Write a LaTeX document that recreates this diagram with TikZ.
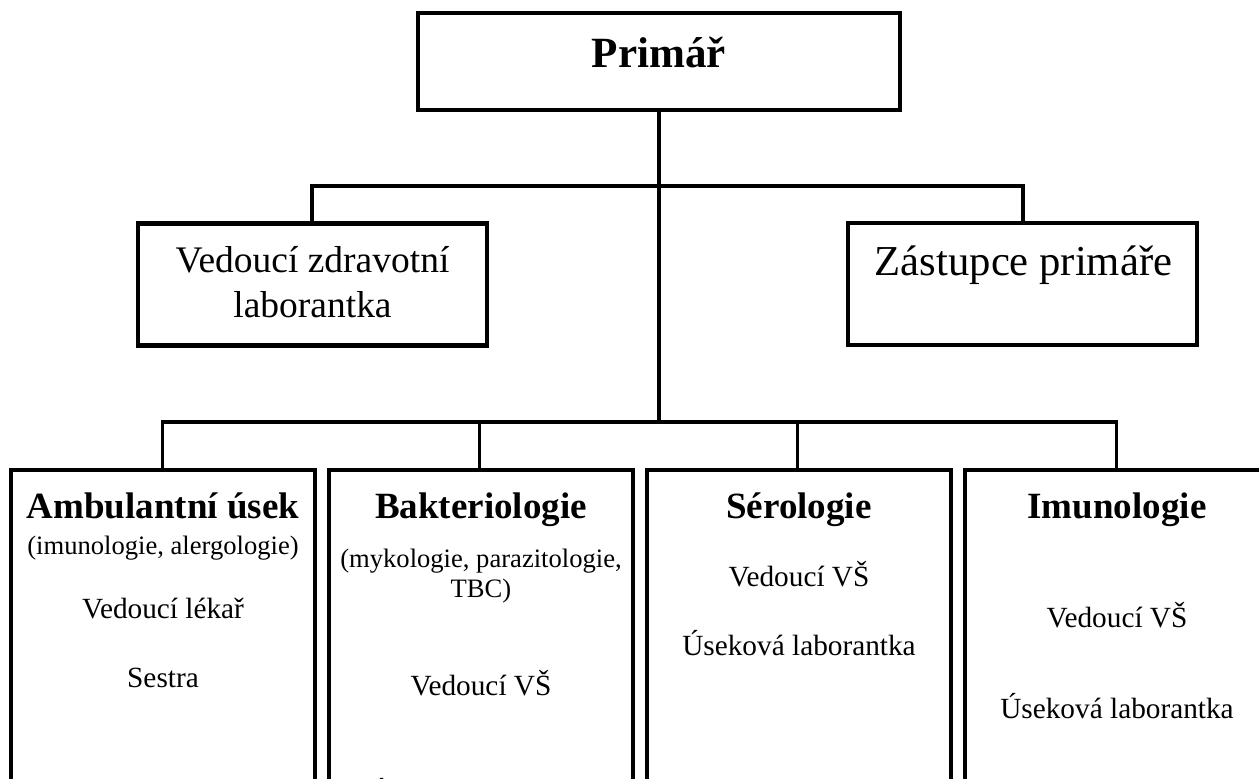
\documentclass[tikz,border=0pt]{standalone}
\usepackage{fontspec}
\setmainfont{Liberation Serif}
\usetikzlibrary{positioning}

\begin{document}
\begin{tikzpicture}[scale=0.15,
    box/.style={draw=black, line width=1.8pt, inner sep=0pt, outer sep=0pt},
    link/.style={draw=black, line width=1.4pt},
    head/.style={font=\fontsize{15.8}{18}\selectfont\bfseries, anchor=base},
    item/.style={font=\fontsize{12.5}{15}\selectfont, anchor=base},
    note/.style={font=\fontsize{11.35}{13}\selectfont, anchor=base}]
                    \tikzstyle{every node}+=[inner sep=0pt]
                    \useasboundingbox (0,0) rectangle (125.9,-77.8);
                    \clip (0,0) rectangle (125.9,-77.8);
                    % boxes
                    \node [box, minimum width=72.3mm, minimum height=14.55mm] (prim) at (65.9,-6.15) {};
                    \node [box, minimum width=52.35mm, minimum height=18.3mm] (ved) at (31.25,-28.45) {};
                    \node [box, minimum width=52.35mm, minimum height=18.3mm] (zast) at (102.25,-28.4) {};
                    \node [box, minimum width=45.6mm, minimum height=49.5mm] (amb) at (16.3,-63.5) {};
                    \node [box, minimum width=45.6mm, minimum height=49.5mm] (bak) at (48.1,-63.5) {};
                    \node [box, minimum width=45.6mm, minimum height=49.5mm] (ser) at (79.9,-63.5) {};
                    \node [box, minimum width=45.6mm, minimum height=49.5mm] (imu) at (111.7,-63.5) {};
                    % texts
                    \node [font=\fontsize{18.4}{22}\selectfont\bfseries, anchor=base] (primT) at (65.9,-6.7) {Primář};
                    \node [font=\fontsize{16}{19}\selectfont, anchor=base] (vedT1) at (31.25,-27.2) {Vedoucí zdravotní};
                    \node [font=\fontsize{16}{19}\selectfont, anchor=base] (vedT2) at (31.25,-31.7) {laborantka};
                    \node [font=\fontsize{18.2}{22}\selectfont, anchor=base] (zastT) at (102.35,-27.5) {Zástupce primáře};
                    \node [head] (ambT) at (16.3,-51.8) {Ambulantní úsek};
                    \node [note] (ambN) at (16.3,-55.4) {(imunologie, alergologie)};
                    \node [item] (ambA) at (16.3,-61.8) {Vedoucí lékař};
                    \node [item] (ambB) at (16.3,-68.7) {Sestra};
                    \node [head] (bakT) at (48.1,-51.8) {Bakteriologie};
                    \node [note] (bakN1) at (48.1,-56.7) {(mykologie, parazitologie,};
                    \node [note] (bakN2) at (48.1,-59.7) {TBC)};
                    \node [item] (bakA) at (48.1,-69.5) {Vedoucí VŠ};
                    \node [item] (bakB) at (48.5,-80.3) {Úseková laborantka};
                    \node [head] (serT) at (79.9,-51.8) {Sérologie};
                    \node [item] (serA) at (79.9,-58.6) {Vedoucí VŠ};
                    \node [item] (serB) at (79.9,-65.5) {Úseková laborantka};
                    \node [head] (imuT) at (111.7,-51.8) {Imunologie};
                    \node [item] (imuA) at (111.7,-62.7) {Vedoucí VŠ};
                    \node [item] (imuB) at (111.7,-71.8) {Úseková laborantka};
                    % connectors
                    \coordinate (ubus) at (65.9,-18.6);
                    \coordinate (lbus) at (65.9,-42.2);
                    \draw [link] (prim.south) -- (lbus);
                    \draw [link] ([xshift=-0.6mm]ved.north) |- (ubus) -| ([xshift=0.6mm]zast.north);
                    \draw [link] ([xshift=-0.6mm]amb.north) |- (lbus) -| ([xshift=-0.3mm]imu.north);
                    \draw [link] ([xshift=-1.2mm]bak.north) |- (lbus);
                    \draw [link] ([xshift=-1.2mm]ser.north) |- (lbus);
                \end{tikzpicture}
\end{document}
